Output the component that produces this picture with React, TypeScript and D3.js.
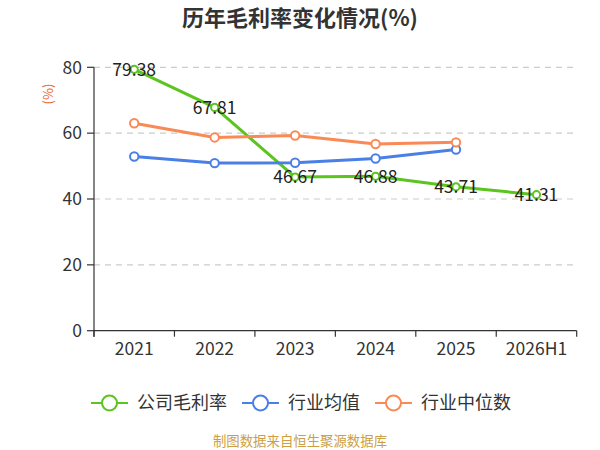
import React from "react";
import * as d3 from "d3";

const categories = ["2021", "2022", "2023", "2024", "2025", "2026H1"];
const companyMargin = [79.38, 67.81, 46.67, 46.88, 43.71, 41.31];
const industryAvg = [52.9, 50.9, 51.0, 52.3, 55.0];
const industryMedian = [63.0, 58.7, 59.3, 56.7, 57.2];
const yTicks = [0, 20, 40, 60, 80];

const title = "历年毛利率变化情况(%)";
const unitLabel = "(%)";
const legendNames = ["公司毛利率", "行业均值", "行业中位数"];
const footer = "制图数据来自恒生聚源数据库";

const W = 600;
const H = 450;
const FONT = "'Noto Sans CJK SC', 'Noto Sans', sans-serif";
const colors = ["#5cc41f", "#4a7fe6", "#fa8a55"];

export default function App() {
  const x = d3.scaleBand<string>().domain(categories).range([94, 576.7]).padding(0);
  const y = d3.scaleLinear().domain([0, 80]).range([330.7, 67.3]);
  const cx = (c: string) => (x(c) as number) + x.bandwidth() / 2;

  const line = d3
    .line<number>()
    .x((_, i) => cx(categories[i]))
    .y((d) => y(d));

  const series = [
    { name: legendNames[0], data: companyMargin, color: colors[0], r: 3.6 },
    { name: legendNames[1], data: industryAvg, color: colors[1], r: 4.2 },
    { name: legendNames[2], data: industryMedian, color: colors[2], r: 4.2 },
  ];

  const legendX = [91, 242, 375];
  const boundaries = categories.map((c) => x(c) as number).concat([576.7]);

  return (
    <svg width={W} height={H} style={{ display: "block", position: "absolute", left: 0, top: 0 }} fontFamily={FONT}>
      <rect width={W} height={H} fill="#fff" />
      <text x={300} y={26} textAnchor="middle" fontSize={22} fontWeight="bold" fill="#333">
        {title}
      </text>
      {/* grid */}
      {yTicks.filter((t) => t !== 0).map((t) => (
        <line key={t} x1={94} x2={576.7} y1={y(t)} y2={y(t)} stroke="#ccc" strokeDasharray="6,5" strokeWidth={1.2} />
      ))}
      {/* y axis */}
      <line x1={94} x2={94} y1={y(80)} y2={y(0) + 6} stroke="#333" strokeWidth={1.2} />
      {yTicks.map((t) => (
        <g key={t}>
          <line x1={87} x2={94} y1={y(t)} y2={y(t)} stroke="#333" strokeWidth={1.2} />
          <text x={82} y={y(t)} dy="0.36em" textAnchor="end" fontSize={17.5} fill="#333">
            {t}
          </text>
        </g>
      ))}
      <text transform={`translate(48,94) rotate(-90)`} textAnchor="middle" dy="0.35em" fontSize={13} fill="#e8622c">
        {unitLabel}
      </text>
      {/* x axis */}
      <line x1={94} x2={576.7} y1={y(0)} y2={y(0)} stroke="#333" strokeWidth={1.2} />
      {boundaries.map((b, i) => (
        <line key={i} x1={b} x2={b} y1={y(0)} y2={y(0) + 6} stroke="#333" strokeWidth={1.2} />
      ))}
      {categories.map((c) => (
        <text key={c} x={cx(c)} y={355} textAnchor="middle" fontSize={17.5} fill="#333">
          {c}
        </text>
      ))}
      {/* series */}
      {series.map((s) => (
        <g key={s.name}>
          <path d={line(s.data) || ""} fill="none" stroke={s.color} strokeWidth={3} strokeLinejoin="round" />
          {s.data.map((v, i) => (
            <circle key={i} cx={cx(categories[i])} cy={y(v)} r={s.r} fill="#fff" stroke={s.color} strokeWidth={2} />
          ))}
        </g>
      ))}
      {/* data labels for company */}
      {companyMargin.map((v, i) => (
        <text key={i} x={cx(categories[i])} y={y(v)} dy="0.36em" textAnchor="middle" fontSize={17.5} fill="#222">
          {v.toFixed(2)}
        </text>
      ))}
      {/* legend */}
      {series.map((s, i) => (
        <g key={s.name} transform={`translate(${legendX[i]},403)`}>
          <line x1={0} x2={37} y1={0} y2={0} stroke={s.color} strokeWidth={2} />
          <circle cx={18.5} cy={0} r={7.5} fill="#fff" stroke={s.color} strokeWidth={2} />
          <text x={46} y={0} dy="0.36em" fontSize={18} fill="#333">
            {s.name}
          </text>
        </g>
      ))}
      <text x={300} y={446} textAnchor="middle" fontSize={13.4} fill="#cc9f45">
        {footer}
      </text>
    </svg>
  );
}
